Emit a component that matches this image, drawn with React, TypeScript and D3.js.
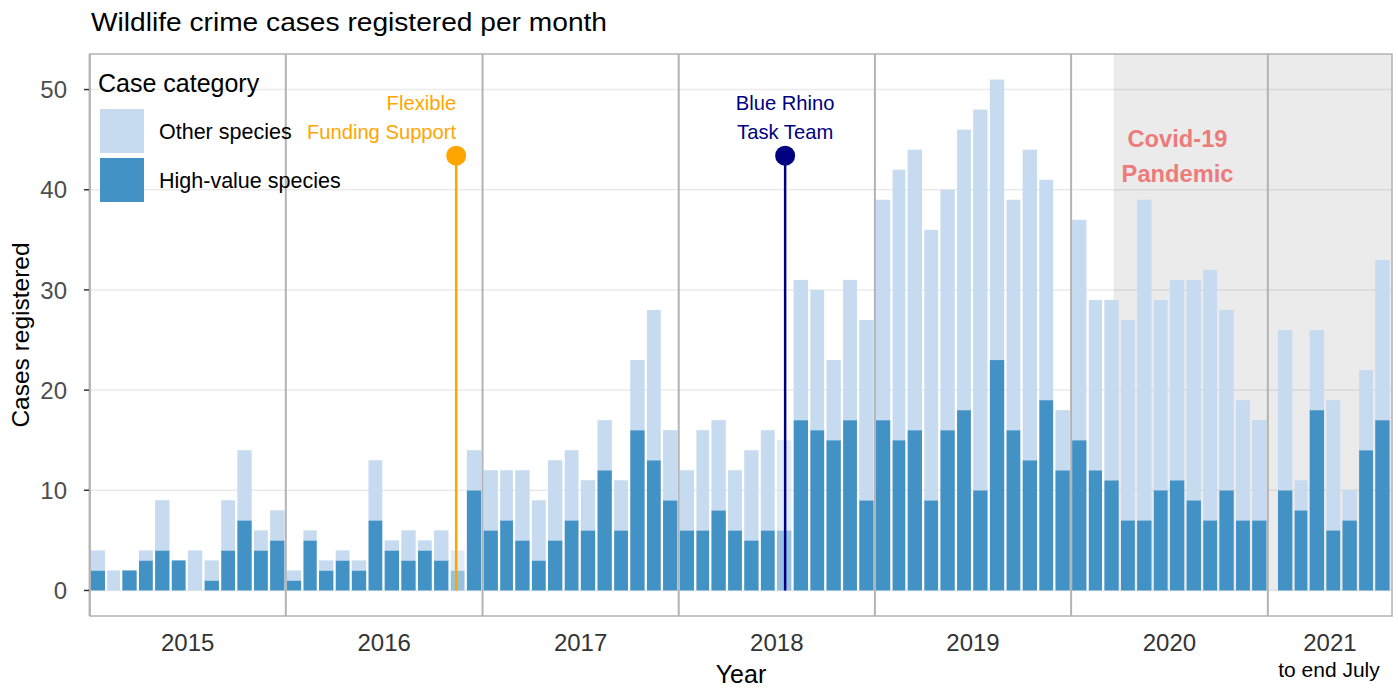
import React from "react";
import * as d3 from "d3";

// ---------- DATA ----------
const periods = [
  "2015-01","2015-02","2015-03","2015-04","2015-05","2015-06","2015-07","2015-08","2015-09","2015-10","2015-11","2015-12",
  "2016-01","2016-02","2016-03","2016-04","2016-05","2016-06","2016-07","2016-08","2016-09","2016-10","2016-11","2016-12",
  "2017-01","2017-02","2017-03","2017-04","2017-05","2017-06","2017-07","2017-08","2017-09","2017-10","2017-11","2017-12",
  "2018-01","2018-02","2018-03","2018-04","2018-05","2018-06","2018-07","2018-08","2018-09","2018-10","2018-11","2018-12",
  "2019-01","2019-02","2019-03","2019-04","2019-05","2019-06","2019-07","2019-08","2019-09","2019-10","2019-11","2019-12",
  "2020-01","2020-02","2020-03","2020-04","2020-05","2020-06","2020-07","2020-08","2020-09","2020-10","2020-11","2020-12",
  "2021-01","2021-02","2021-03","2021-04","2021-05","2021-06","2021-07",
];

const highValue = [
  2,0,2,3,4,3,0,1,4,7,4,5,
  1,5,2,3,2,7,4,3,4,3,2,10,
  6,7,5,3,5,7,6,12,6,16,13,9,
  6,6,8,6,5,6,6,17,16,15,17,9,
  17,15,16,9,16,18,10,23,16,13,19,12,
  15,12,11,7,7,10,11,9,7,10,7,7,
  10,8,18,6,7,14,17,
];

const otherSpecies = [
  2,2,0,1,5,0,4,2,5,7,2,3,
  1,1,1,1,1,6,1,3,1,3,2,4,
  6,5,7,6,8,7,5,5,5,7,15,7,
  6,10,9,6,9,10,9,14,14,8,14,18,
  22,27,28,27,24,28,38,28,23,31,22,6,
  22,17,18,20,32,19,20,22,25,18,12,10,
  16,3,8,13,3,8,16,
];

const yearTicks = ["2015","2016","2017","2018","2019","2020","2021"];
const yTicks = [0, 10, 20, 30, 40, 50];

const events = [
  { label: ["Flexible", "Funding Support"], date: "2016-11-13", value: 43.4, color: "#FFA500", anchor: "end" },
  { label: ["Blue Rhino", "Task Team"], date: "2018-07-18", value: 43.4, color: "#000080", anchor: "middle" },
];

const covid = { start: "2020-03-20", labelDate: "2020-07-17", label: ["Covid-19", "Pandemic"] };

const seriesNames = ["Other species", "High-value species"];
const seriesColors = ["#c6dbef", "#4292c6"];

// ---------- LAYOUT ----------
const W = 1398, H = 689;
const panel = { left: 90, right: 1392, top: 54, bottom: 616 };
const FONT = "'Liberation Sans', Arial, Helvetica, sans-serif";
const lateShiftYear = 2021;
const lateShiftDays = 17;

const parse = (s: string) => {
  const [y, m, d] = s.split("-").map(Number);
  return new Date(Date.UTC(y, (m || 1) - 1, d || 1));
};

export default function App() {
  const x = d3
    .scaleUtc()
    .domain([new Date(Date.UTC(2015, 0, 1)), new Date(Date.UTC(2021, 7, 20))])
    .range([89.6, panel.right]);
  const y = d3.scaleLinear().domain([-2.55, 53.55]).range([panel.bottom, panel.top]);

  const bars = periods.map((p, i) => {
    const [yy, mm] = p.split("-").map(Number);
    const shift = yy === lateShiftYear ? lateShiftDays : 0;
    const start = new Date(Date.UTC(yy, mm - 1, 1 + shift));
    const end = new Date(Date.UTC(yy, mm, 1 + shift));
    const x0 = x(start) + 1;
    const x1 = x(end) - 1.3;
    return { p, x0, x1, hv: highValue[i], other: otherSpecies[i] };
  });

  const eventDates = events.map((e) => parse(e.date).getTime());
  const isFaded = (b: any) =>
    eventDates.some((t) => {
      const xe = x(new Date(t));
      return xe > b.x0 && xe < b.x1;
    });

  const yearStarts = yearTicks.map((yr) => new Date(Date.UTC(+yr, 0, 1)));
  const domainEnd = x.domain()[1];

  return (
    <svg
      width={W}
      height={H}
      style={{ position: "absolute", left: 0, top: 0, background: "#fff" }}
      fontFamily={FONT}
    >
      {/* title */}
      <text x={91} y={31} fontSize={25} fill="#000" textLength={516} lengthAdjust="spacingAndGlyphs">
        Wildlife crime cases registered per month
      </text>

      {/* gridlines */}
      {yTicks.map((t) => (
        <line key={"g" + t} x1={panel.left} x2={panel.right} y1={y(t)} y2={y(t)} stroke="#ebebeb" strokeWidth={1.5} />
      ))}

      {/* covid shading */}
      <rect
        x={x(parse(covid.start))}
        y={panel.top}
        width={panel.right - x(parse(covid.start))}
        height={y(0) - panel.top}
        fill="#000"
        fillOpacity={0.08}
      />

      {/* bars */}
      {bars.map((b) => {
        const faded = isFaded(b);
        return (
          <g key={b.p} opacity={faded ? 0.55 : 1}>
            {b.hv > 0 && (
              <rect x={b.x0} width={b.x1 - b.x0} y={y(b.hv)} height={y(0) - y(b.hv)} fill={seriesColors[1]} />
            )}
            {b.other > 0 && (
              <rect
                x={b.x0}
                width={b.x1 - b.x0}
                y={y(b.hv + b.other)}
                height={y(b.hv) - y(b.hv + b.other)}
                fill={seriesColors[0]}
              />
            )}
          </g>
        );
      })}

      {/* year separators */}
      {yearStarts.map((d, i) => (
        <line
          key={"v" + i}
          x1={x(d)}
          x2={x(d)}
          y1={panel.top}
          y2={panel.bottom}
          stroke="#b3b3b3"
          strokeWidth={2}
        />
      ))}

      {/* covid label */}
      {covid.label.map((l, i) => (
        <text
          key={"c" + i}
          x={x(parse(covid.labelDate))}
          y={y(i === 0 ? 44.3 : 40.8)}
          textAnchor="middle"
          fontSize={23.7}
          fontWeight="bold"
          fill="#EE7B7B"
        >
          {l}
        </text>
      ))}

      {/* events */}
      {events.map((e, i) => {
        const xe = x(parse(e.date));
        return (
          <g key={"e" + i}>
            <line x1={xe} x2={xe} y1={y(e.value)} y2={y(0)} stroke={e.color} strokeWidth={2.5} />
            <circle cx={xe} cy={y(e.value)} r={10} fill={e.color} />
            {e.label.map((l, j) => (
              <text
                key={j}
                x={xe}
                y={y(j === 0 ? 48.0 : 45.1)}
                textAnchor={e.anchor}
                fontSize={20.2}
                fill={e.color}
              >
                {l}
              </text>
            ))}
          </g>
        );
      })}

      {/* panel border */}
      <rect
        x={panel.left}
        y={panel.top}
        width={panel.right - panel.left}
        height={panel.bottom - panel.top}
        fill="none"
        stroke="#b3b3b3"
        strokeWidth={1.5}
      />

      {/* y axis */}
      {yTicks.map((t) => (
        <g key={"yt" + t}>
          <line x1={84} x2={89} y1={y(t)} y2={y(t)} stroke="#333" strokeWidth={1.5} />
          <text x={67} y={y(t)} dy="0.36em" textAnchor="end" fontSize={24} fill="#4d4d4d">
            {t}
          </text>
        </g>
      ))}
      <text
        transform={`translate(29, ${(panel.top + panel.bottom) / 2}) rotate(-90)`}
        textAnchor="middle"
        fontSize={24.5}
        fill="#000"
      >
        Cases registered
      </text>

      {/* x axis labels */}
      {yearStarts.map((d, i) => {
        const next = i < yearStarts.length - 1 ? yearStarts[i + 1] : domainEnd;
        const cx = (x(d) + x(next)) / 2;
        return (
          <text key={"xl" + i} x={cx} y={651} textAnchor="middle" fontSize={24} fill="#333">
            {yearTicks[i]}
          </text>
        );
      })}
      <text x={1329} y={677} textAnchor="middle" fontSize={21} fill="#000">
        to end July
      </text>
      <text x={(panel.left + panel.right) / 2} y={683} textAnchor="middle" fontSize={25} fill="#000">
        Year
      </text>

      {/* legend */}
      <text x={98} y={92} fontSize={25} fill="#000">
        Case category
      </text>
      {seriesNames.map((n, i) => (
        <g key={"lg" + i}>
          <rect x={100} y={109 + i * 49} width={44} height={44} fill={seriesColors[i]} />
          <text x={159} y={131 + i * 49} dy="0.35em" fontSize={21.5} fill="#000">
            {n}
          </text>
        </g>
      ))}
    </svg>
  );
}
